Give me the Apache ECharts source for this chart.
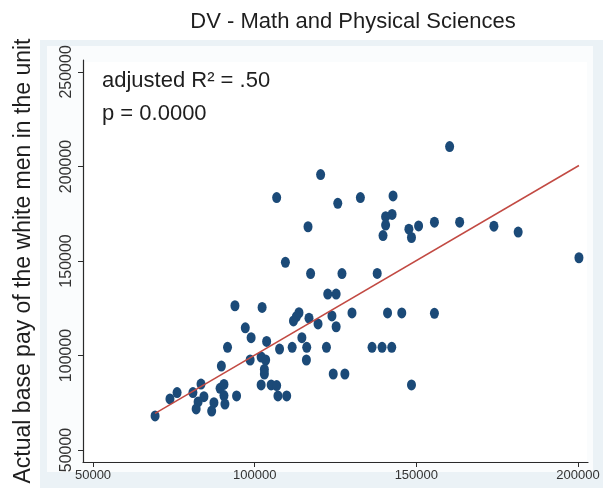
<!DOCTYPE html>
<html>
<head>
<meta charset="utf-8">
<script src="https://cdn.jsdelivr.net/npm/echarts@6/dist/echarts.min.js"></script>
<style>
html,body{margin:0;padding:0;background:#fff;}
#chart{width:603px;height:488px;}
</style>
</head>
<body>
<div id="chart"></div>
<script>
const titleText = 'DV - Math and Physical Sciences';
const yTitle = 'Actual base pay of the white men in the unit';
const annotLines = ['adjusted R² = .50', 'p = 0.0000'];
const xTicks = [50000, 100000, 150000, 200000];
const yTicks = [50000, 100000, 150000, 200000, 250000];

const xValues = [69200,73800,76000,80900,83400,84300,82500,81900,86700,87400,
  89300,90500,90500,90800,94400,89700,91600,93900,102300,97100,
  98900,98600,103700,102000,103400,103000,103000,102000,105100,106800,
  107200,109900,107700,120400,106800,125700,132700,142800,142500,140500,
  140500,139700,147700,148500,150700,116500,109500,117300,127000,137900,
  122600,125200,130100,141100,145500,113700,112900,112000,116800,123900,
  125200,119600,114600,116100,111600,122200,136300,139400,142400,116000,
  124300,127900,148500,160300,155600,163400,174000,181500,200300,155600];
const yValues = [68000,77000,80400,80400,84900,78200,75400,71700,70600,75000,
  82600,84700,78800,74300,78600,94400,104300,126300,125400,114600,
  109400,97600,107400,99200,97600,92600,90200,84400,84400,84100,
  78600,78600,103400,195700,183500,180500,183500,184400,174600,173400,
  169000,163400,166800,162400,168500,168100,149300,143300,143300,143400,
  132500,132500,122500,122500,122500,122600,120500,118300,119700,120900,
  115200,116700,109400,104300,104300,104300,104300,104300,104300,97600,
  90200,90200,84400,210500,170500,170500,168400,165300,151700,122300];

const fitX = [69200, 200300];
const fitY = [69400, 200500];

const chart = echarts.init(document.getElementById('chart'), null, {renderer: 'canvas'});
const FONT = "'Liberation Sans', Arial, Helvetica, sans-serif";
const plain = v => String(v);

chart.setOption({
  animation: false,
  backgroundColor: '#ffffff',
  title: {
    text: titleText,
    left: 348, top: 6, textAlign: 'center',
    textStyle: {fontFamily: FONT, fontSize: 22, fontWeight: 'normal', color: '#1e1e1e'}
  },
  graphic: [
    {type: 'rect', z: -20, silent: true, shape: {x: 40, y: 40, width: 563, height: 448}, style: {fill: '#ebf2f6'}},
    {type: 'rect', z: -19, silent: true, shape: {x: 47, y: 46, width: 546, height: 426}, style: {fill: '#fafcfd'}},
    {type: 'rect', z: -18, silent: true, shape: {x: 84, y: 62, width: 503, height: 399}, style: {fill: '#ffffff'}},
    {type: 'text', z: 50, left: 102, top: 70, style: {text: annotLines[0], font: '22px ' + FONT, fill: '#1e1e1e'}},
    {type: 'text', z: 50, left: 102, top: 103, style: {text: annotLines[1], font: '22px ' + FONT, fill: '#1e1e1e'}}
  ],
  grid: {left: 83, top: 60, width: 505, height: 402, containLabel: false},
  xAxis: {
    type: 'value', min: 46900, max: 203100,
    axisLine: {show: true, onZero: false, lineStyle: {color: '#2a2a2a', width: 1.2}},
    axisTick: {show: true, length: 5, lineStyle: {color: '#2a2a2a'}, customValues: xTicks},
    axisLabel: {fontFamily: FONT, fontSize: 13, color: '#333', margin: 7, customValues: xTicks, formatter: plain},
    splitLine: {show: false}
  },
  yAxis: {
    type: 'value', min: 43650, max: 256300,
    name: yTitle, nameLocation: 'middle', nameRotate: 90, nameGap: 48,
    nameTextStyle: {fontFamily: FONT, fontSize: 23, color: '#1e1e1e'},
    axisLine: {show: true, onZero: false, lineStyle: {color: '#2a2a2a', width: 1.2}},
    axisTick: {show: true, length: 5, lineStyle: {color: '#2a2a2a'}, customValues: yTicks},
    axisLabel: {fontFamily: FONT, fontSize: 16, color: '#333', rotate: 90, margin: 8, customValues: yTicks, formatter: plain},
    splitLine: {show: false}
  },
  series: [
    {
      type: 'scatter', z: 3,
      symbol: 'circle', symbolSize: [9, 11],
      itemStyle: {color: '#1b4a78', opacity: 1},
      data: xValues.map((x, i) => [x, yValues[i]])
    },
    {
      type: 'line', z: 4, symbol: 'none',
      lineStyle: {color: '#c24a43', width: 1.5},
      data: fitX.map((x, i) => [x, fitY[i]])
    }
  ]
});
</script>
</body>
</html>
